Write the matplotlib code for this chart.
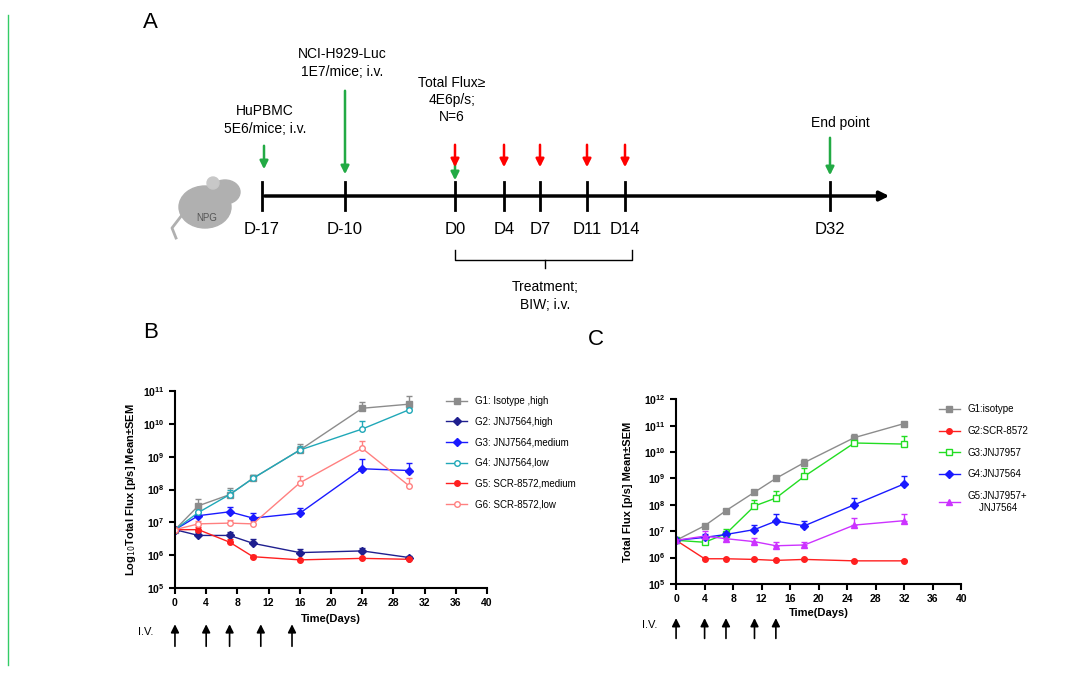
import numpy as np
import matplotlib.pyplot as plt
from matplotlib.patches import Ellipse
from matplotlib.lines import Line2D

# panel B data
days_b = [0, 3, 7, 10, 16, 24, 30]
b_series = {
    'G1: Isotype ,high': [6e6, 3.2e7, 7e7, 2.2e8, 1.6e9, 3e10, 4e10],
    'G2: JNJ7564,high': [6e6, 4e6, 4e6, 2.3e6, 1.2e6, 1.35e6, 8.5e5],
    'G3: JNJ7564,medium': [6e6, 1.6e7, 2.1e7, 1.35e7, 1.9e7, 4.3e8, 3.8e8],
    'G4: JNJ7564,low': [6e6, 2e7, 7e7, 2.2e8, 1.6e9, 7e9, 2.7e10],
    'G5: SCR-8572,medium': [6e6, 6e6, 2.5e6, 9e5, 7.2e5, 8e5, 7.5e5],
    'G6: SCR-8572,low': [6e6, 9e6, 9.5e6, 9e6, 1.6e8, 1.8e9, 1.3e8],
}
b_err = {
    'G1: Isotype ,high': [0, 2e7, 4e7, 6e7, 8e8, 1.5e10, 3e10],
    'G2: JNJ7564,high': [0, 1e6, 1e6, 8e5, 3e5, 3e5, 1e5],
    'G3: JNJ7564,medium': [0, 5e6, 8e6, 6e6, 9e6, 4e8, 2.5e8],
    'G4: JNJ7564,low': [0, 5e6, 3e7, 5e7, 6e8, 5e9, 4e9],
    'G5: SCR-8572,medium': [0, 1e6, 6e5, 1e5, 5e4, 5e4, 5e4],
    'G6: SCR-8572,low': [0, 2e6, 2e6, 2e6, 1e8, 1.2e9, 1e8],
}
b_style = [('#8c8c8c', 's', True), ('#1f1f8f', 'D', True), ('#1a1aff', 'D', True),
           ('#20a8b8', 'o', False), ('#ff2020', 'o', True), ('#ff8080', 'o', False)]

# panel C data
days_c = [0, 4, 7, 11, 14, 18, 25, 32]
c_series = {
    'G1:isotype': [4.5e6, 1.6e7, 6e7, 3e8, 1e9, 4e9, 3.5e10, 1.2e11],
    'G2:SCR-8572': [4.5e6, 9e5, 9e5, 8.5e5, 7.8e5, 8.5e5, 7.5e5, 7.5e5],
    'G3:JNJ7957': [4.5e6, 3.8e6, 8e6, 9e7, 1.8e8, 1.2e9, 2.2e10, 2e10],
    'G4:JNJ7564': [4.5e6, 5.8e6, 7.5e6, 1.15e7, 2.4e7, 1.6e7, 1e8, 6.2e8],
    'G5:JNJ7957+\n    JNJ7564': [4.5e6, 6.5e6, 5.2e6, 4e6, 2.8e6, 3e6, 1.7e7, 2.5e7],
}
c_err = {
    'G1:isotype': [0, 2e6, 5e6, 3e7, 2e8, 1.5e9, 1.5e10, 1e10],
    'G2:SCR-8572': [0, 5e4, 5e4, 5e4, 5e4, 5e4, 5e4, 5e4],
    'G3:JNJ7957': [0, 1e6, 4e6, 6e7, 1.6e8, 1.2e9, 1e10, 2e10],
    'G4:JNJ7564': [0, 2e6, 1e6, 6e6, 2e7, 8e6, 8e7, 6e8],
    'G5:JNJ7957+\n    JNJ7564': [0, 4e6, 1e6, 1.5e6, 1.2e6, 1e6, 1.5e7, 2e7],
}
c_style = [('#8c8c8c', 's', True), ('#ff2020', 'o', True), ('#22dd22', 's', False),
           ('#1a1aff', 'D', True), ('#cc33ff', '^', True)]

iv_b = [0, 4, 7, 11, 15]
iv_c = [0, 4, 7, 11, 14]

plt.rcParams['font.family'] = 'Liberation Sans'
fig = plt.figure(figsize=(10.8, 6.79), dpi=100)

# panel A drawn in pixel coordinates
a = fig.add_axes([0, 0, 1, 1])
a.set_xlim(0, 1080)
a.set_ylim(679, 0)
a.axis('off')
a.plot([8, 8], [15, 665], color='#33cc66', lw=1)
a.text(143, 28, 'A', fontsize=16)
a.text(143, 338, 'B', fontsize=16)
a.text(588, 345, 'C', fontsize=16)
a.annotate('', xy=(892, 196), xytext=(262, 196),
           arrowprops=dict(arrowstyle='-|>', color='black', lw=2.5, mutation_scale=14))
tl_x = [262, 345, 455, 504, 540, 587, 625, 830]
tl_lab = ['D-17', 'D-10', 'D0', 'D4', 'D7', 'D11', 'D14', 'D32']
for x, lab in zip(tl_x, tl_lab):
    a.plot([x, x], [182, 210], color='black', lw=2)
    a.text(x, 230, lab, ha='center', va='center', fontsize=12)


def arrow(x, y0, y1, c):
    a.annotate('', xy=(x, y1), xytext=(x, y0),
               arrowprops=dict(arrowstyle='-|>', color=c, lw=1.8, mutation_scale=12))


green = '#22aa44'
arrow(264, 143, 172, green)
arrow(345, 88, 177, green)
arrow(455, 160, 183, green)
arrow(830, 135, 178, green)
for x in [455, 504, 540, 587, 625]:
    arrow(x, 142, 170, 'red')
a.text(265, 120, 'HuPBMC\n5E6/mice; i.v.', ha='center', va='center', fontsize=10, linespacing=1.4)
a.text(342, 63, 'NCI-H929-Luc\n1E7/mice; i.v.', ha='center', va='center', fontsize=10, linespacing=1.4)
a.text(452, 100, 'Total Flux≥\n4E6p/s;\nN=6', ha='center', va='center', fontsize=10, linespacing=1.3)
a.text(840, 123, 'End point', ha='center', va='center', fontsize=10)
a.plot([455, 455, 632, 632], [250, 260, 260, 250], color='black', lw=1)
a.plot([545, 545], [260, 268], color='black', lw=1)
a.text(545, 296, 'Treatment;\nBIW; i.v.', ha='center', va='center', fontsize=10, linespacing=1.4)
# mouse
a.add_patch(Ellipse((205, 207), 52, 42, color='#b0b0b0'))
a.add_patch(Ellipse((225, 192), 30, 24, color='#b0b0b0'))
a.add_patch(Ellipse((213, 183), 12, 12, color='#c8c8c8'))
a.plot([182, 172, 176], [215, 228, 238], color='#b0b0b0', lw=2)
a.text(207, 218, 'NPG', ha='center', va='center', fontsize=7, color='#555555')


def panel(rect, days, series, errs, styles, ymax, ylabel, iv, ylab_x, leg_x, spacing):
    ax = fig.add_axes(rect)
    handles = []
    for (name, vals), (c, m, filled) in zip(series.items(), styles):
        e = errs[name]
        ax.errorbar(days, vals, yerr=[np.zeros(len(e)), e], color=c, marker=m, ms=4,
                    mfc=c if filled else 'white', mec=c, lw=1, elinewidth=1,
                    capsize=2)
        handles.append(Line2D([], [], color=c, marker=m, ms=4,
                              mfc=c if filled else 'white', mec=c, lw=1, label=name))
    ax.set_yscale('log')
    ax.set_ylim(1e5, ymax)
    ax.set_xlim(0, 40)
    ax.set_xticks(range(0, 41, 4))
    ax.tick_params(labelsize=7.5, width=1.5, length=4)
    for t in ax.get_xticklabels() + ax.get_yticklabels():
        t.set_fontweight('bold')
    ax.yaxis.set_minor_locator(plt.NullLocator())
    for s in ['top', 'right']:
        ax.spines[s].set_visible(False)
    for s in ['left', 'bottom']:
        ax.spines[s].set_linewidth(1.5)
    ax.set_ylabel(ylabel, fontsize=8, fontweight='bold')
    ax.yaxis.set_label_coords(ylab_x, 0.5)
    ax.set_xlabel('Time(Days)', fontsize=8, fontweight='bold')
    ax.xaxis.set_label_coords(0.5, -0.13)
    ax.legend(handles=handles, loc='upper left', bbox_to_anchor=(leg_x, 1.02), frameon=False,
              fontsize=7, labelspacing=spacing, handlelength=2.2)
    tr = ax.get_xaxis_transform()
    for d in iv:
        ax.annotate('', xy=(d, -0.17), xycoords=tr, xytext=(d, -0.31), textcoords=tr,
                    arrowprops=dict(arrowstyle='-|>', color='black', lw=1.2, mutation_scale=12),
                    annotation_clip=False)
    ax.text(-0.12, -0.24, 'I.V.', transform=ax.transAxes, fontsize=8)
    return ax


panel([0.162, 0.134, 0.289, 0.290], days_b, b_series, b_err, b_style, 1e11,
      r'Log$_{10}$Total Flux [p/s] Mean±SEM', iv_b, -0.12, 0.84, 1.1)
panel([0.626, 0.140, 0.264, 0.272], days_c, c_series, c_err, c_style, 1e12,
      'Total Flux [p/s] Mean±SEM', iv_c, -0.15, 0.89, 1.2)

fig.savefig('out.png', dpi=100)
